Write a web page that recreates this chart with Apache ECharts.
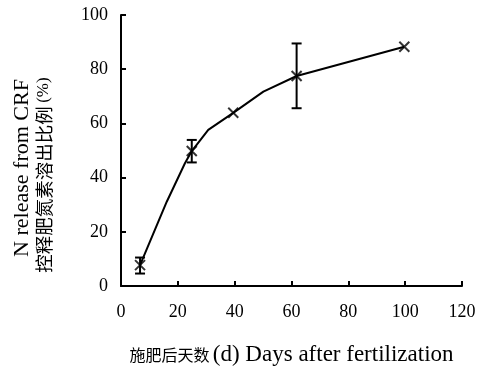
<!DOCTYPE html>
<html>
<head>
<meta charset="utf-8">
<script src="https://cdn.jsdelivr.net/npm/echarts@6/dist/echarts.min.js"></script>
<style>
  html, body { margin: 0; padding: 0; background: #fff; }
  #chart { width: 484px; height: 368px; }
</style>
</head>
<body>
<div id="chart"></div>
<script>
// measured points (x markers)
const days = [6.7, 24.9, 39.5, 61.8, 99.7];
const release = [7.7, 49.8, 63.9, 77.5, 88.3];
// error bars (only some points have them)
const errDays = [6.7, 24.9, 61.8];
const errLow = [4.6, 45.6, 65.6];
const errHigh = [10.5, 53.9, 89.5];
// the drawn curve
const curveDays = [6.7, 16.1, 22.5, 24.9, 30.7, 39.5, 50.1, 61.8, 99.7];
const curveRelease = [7.7, 31.1, 45.3, 49.8, 57.6, 63.9, 71.7, 77.5, 88.3];
// axis ticks
const xTicks = [0, 20, 40, 60, 80, 100, 120];
const yTicks = [0, 20, 40, 60, 80, 100];

const font = '"Liberation Serif", "Noto Sans CJK SC", serif';
const cnFont = '"Noto Sans CJK SC", serif';
const chart = echarts.init(document.getElementById('chart'));

const axisCommon = {
  axisLine: { lineStyle: { color: '#000', width: 2 } },
  axisTick: { inside: true, length: 5, lineStyle: { color: '#000', width: 2 } },
  splitLine: { show: false },
  axisLabel: { color: '#000', fontSize: 18, fontFamily: font }
};

chart.setOption({
  animation: false,
  grid: { left: 121, right: 22, top: 15, bottom: 82, outerBoundsMode: 'none' },
  xAxis: Object.assign({}, axisCommon, {
    type: 'value',
    min: xTicks[0],
    max: xTicks[xTicks.length - 1],
    interval: 20,
    name: '{cn|施肥后天数} {en|(d) Days after fertilization}',
    nameLocation: 'middle',
    nameGap: 57,
    nameTextStyle: {
      color: '#000',
      rich: {
        cn: { fontSize: 16, fontFamily: cnFont, color: '#000' },
        en: { fontSize: 23, fontFamily: font, color: '#000' }
      }
    },
    axisLabel: Object.assign({}, axisCommon.axisLabel, { margin: 17 })
  }),
  yAxis: Object.assign({}, axisCommon, {
    type: 'value',
    min: yTicks[0],
    max: yTicks[yTicks.length - 1],
    interval: 20,
    axisLabel: Object.assign({}, axisCommon.axisLabel, { margin: 13 })
  }),
  graphic: [
    {
      type: 'text', x: 22, y: 168, rotation: Math.PI / 2,
      style: { text: 'N release from CRF', fill: '#000', font: '22px ' + font,
        textAlign: 'center', textVerticalAlign: 'middle' }
    },
    {
      type: 'text', x: 44, y: 175, rotation: Math.PI / 2,
      style: {
        text: '{cn|控释肥氮素溶出比例} {en|(%)}',
        textAlign: 'center', textVerticalAlign: 'middle',
        rich: {
          cn: { fontSize: 18.5, fontFamily: cnFont, fill: '#000' },
          en: { fontSize: 17, fontFamily: font, fill: '#000' }
        }
      }
    }
  ],
  series: [
    {
      type: 'line',
      data: curveDays.map((d, i) => [d, curveRelease[i]]),
      showSymbol: false,
      lineStyle: { color: '#000', width: 2 },
      z: 2
    },
    {
      type: 'scatter',
      data: days.map((d, i) => [d, release[i]]),
      symbol: 'path://M0,0L10,10M10,0L0,10',
      symbolSize: 10,
      itemStyle: { color: 'none', borderColor: '#000', borderWidth: 2 },
      z: 3
    },
    {
      type: 'custom',
      data: errDays.map((d, i) => [d, errLow[i], errHigh[i]]),
      renderItem: function (params, api) {
        const lo = api.coord([api.value(0), api.value(1)]);
        const hi = api.coord([api.value(0), api.value(2)]);
        const w = 5;
        const st = { stroke: '#000', lineWidth: 2 };
        return {
          type: 'group',
          children: [
            { type: 'line', shape: { x1: lo[0], y1: lo[1], x2: hi[0], y2: hi[1] }, style: st },
            { type: 'line', shape: { x1: lo[0] - w, y1: lo[1], x2: lo[0] + w, y2: lo[1] }, style: st },
            { type: 'line', shape: { x1: hi[0] - w, y1: hi[1], x2: hi[0] + w, y2: hi[1] }, style: st }
          ]
        };
      },
      z: 4
    }
  ]
});
</script>
</body>
</html>
